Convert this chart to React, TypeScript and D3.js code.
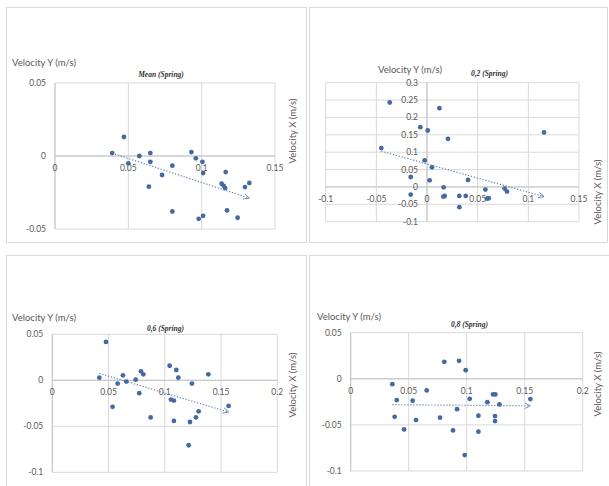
import React, { useEffect, useRef } from "react";
import * as d3 from "d3";

// velocity pairs [x, y] in m/s
const meanSpring: [number, number][] = [
  [0.039, 0.002], [0.047, 0.013], [0.05, -0.005], [0.0575, 0.0], [0.065, 0.002],
  [0.065, -0.004], [0.064, -0.021], [0.073, -0.013], [0.08, -0.0066], [0.08, -0.038],
  [0.093, 0.0027], [0.096, -0.0016], [0.1005, -0.004], [0.101, -0.0117], [0.098, -0.043],
  [0.101, -0.041], [0.1136, -0.019], [0.115, -0.0204], [0.116, -0.022], [0.1164, -0.011],
  [0.1173, -0.0373], [0.1245, -0.0423], [0.1295, -0.0213], [0.1325, -0.0185],
];
const spring02: [number, number][] = [
  [-0.0368, 0.243], [-0.0451, 0.112], [-0.0066, 0.172], [0.0007, 0.1625], [0.0122, 0.2266],
  [0.0207, 0.1386], [-0.0023, 0.0765], [0.0049, 0.0564], [-0.0161, 0.0287], [0.0026, 0.0191],
  [-0.0161, -0.022], [0.0164, -0.001], [0.0161, -0.0277], [0.0174, -0.026], [0.0319, -0.0258],
  [0.0319, -0.0583], [0.0382, -0.0258], [0.0405, 0.0201], [0.0576, -0.0076], [0.0592, -0.0335],
  [0.0609, -0.0325], [0.0766, -0.0048], [0.0789, -0.0134], [0.1155, 0.1568],
];
const spring06: [number, number][] = [
  [0.0418, 0.0029], [0.0477, 0.0417], [0.0536, -0.0288], [0.0581, -0.0036], [0.0628, 0.0054],
  [0.0658, -0.0014], [0.0741, 0.0007], [0.0773, -0.014], [0.0788, 0.0098], [0.0809, 0.0065],
  [0.0874, -0.0403], [0.1043, 0.0158], [0.1055, -0.021], [0.1081, -0.022], [0.1081, -0.0442],
  [0.1102, 0.0112], [0.112, 0.0029], [0.1212, -0.0706], [0.1224, -0.0453], [0.1241, -0.0036],
  [0.1277, -0.0403], [0.1301, -0.0337], [0.1387, 0.0065], [0.1567, -0.0279],
];
const spring08: [number, number][] = [
  [0.0359, -0.0058], [0.0397, -0.0231], [0.0379, -0.0412], [0.046, -0.0549], [0.0534, -0.0238],
  [0.0563, -0.0448], [0.0655, -0.0126], [0.077, -0.0422], [0.0807, 0.0184], [0.0882, -0.056],
  [0.0917, -0.0329], [0.0934, 0.0195], [0.0991, 0.0094], [0.0983, -0.0827], [0.1026, -0.0217],
  [0.1101, -0.0401], [0.1101, -0.0574], [0.1178, -0.0253], [0.1227, -0.017], [0.1247, -0.017],
  [0.1244, -0.0404], [0.1244, -0.0458], [0.1282, -0.0278], [0.1549, -0.022],
];

const titles = ["Mean (Spring)", "0,2 (Spring)", "0,6 (Spring)", "0,8 (Spring)"];

const xTicksMean = [0, 0.05, 0.1, 0.15];
const yTicksMean = [-0.05, 0, 0.05];
const xTicks02 = [-0.1, -0.05, 0, 0.05, 0.1, 0.15];
const yTicks02 = [-0.1, -0.05, 0, 0.05, 0.1, 0.15, 0.2, 0.25, 0.3];
const xTicksWide = [0, 0.05, 0.1, 0.15, 0.2];
const yTicksWide = [-0.1, -0.05, 0, 0.05];

const yAxisLabel = "Velocity Y (m/s)";
const xAxisLabel = "Velocity X (m/s)";

const W = 609;
const H = 486;
const DOT = "#456a9f";
const GRID = "#d9d9d9";
const TEXT = "#595959";
const FONT = "Lato, 'Open Sans', sans-serif";

// least squares line over a series
function fit(pts: [number, number][]) {
  const mx = d3.mean(pts, (d) => d[0])!;
  const my = d3.mean(pts, (d) => d[1])!;
  const sxy = d3.sum(pts, (d) => (d[0] - mx) * (d[1] - my));
  const sxx = d3.sum(pts, (d) => (d[0] - mx) ** 2);
  const slope = sxy / sxx;
  return (x: number) => my + slope * (x - mx);
}

const App = () => {
  const ref = useRef<SVGSVGElement>(null);

  useEffect(() => {
    const panels = [
      {
        data: meanSpring, xt: xTicksMean, yt: yTicksMean,
        box: [6, 7, 300, 235], plot: [55, 275, 83, 229],
        yl: [12, 66], tl: [161, 77], xl: [296, 131],
      },
      {
        data: spring02, xt: xTicks02, yt: yTicks02,
        box: [309, 7, 298, 235], plot: [325.7, 579, 82.7, 221.7],
        yl: [378, 73], tl: [489.5, 76], xl: [601, 192],
      },
      {
        data: spring06, xt: xTicksWide, yt: yTicksWide,
        box: [6, 255, 300, 260], plot: [52.3, 277.3, 334.3, 472.3],
        yl: [12, 321], tl: [165.5, 331], xl: [296, 385],
      },
      {
        data: spring08, xt: xTicksWide, yt: yTicksWide,
        box: [309, 255, 320, 260], plot: [350.7, 582.7, 332.7, 471],
        yl: [317, 320], tl: [469.5, 327], xl: [601, 384],
      },
    ];

    const svg = d3.select(ref.current);
    svg.selectAll("*").remove();

    svg.append("rect").attr("width", W).attr("height", H).attr("fill", "#fff");

    const defs = svg.append("defs");
    defs
      .append("marker")
      .attr("id", "arrow")
      .attr("viewBox", "0 0 10 10")
      .attr("refX", 9)
      .attr("refY", 5)
      .attr("markerWidth", 7)
      .attr("markerHeight", 7)
      .attr("markerUnits", "userSpaceOnUse")
      .attr("orient", "auto")
      .append("path")
      .attr("d", "M1,1 L9,5 L1,9")
      .attr("fill", "none")
      .attr("stroke", "#5f7fae")
      .attr("stroke-width", 1.2);

    panels.forEach((p, i) => {
      const g = svg.append("g");
      const [bx, by, bw, bh] = p.box;
      g.append("rect")
        .attr("x", bx + 0.5).attr("y", by + 0.5)
        .attr("width", bw).attr("height", bh)
        .attr("fill", "#fff").attr("stroke", GRID);

      const x = d3.scaleLinear().domain(d3.extent(p.xt) as [number, number]).range([p.plot[0], p.plot[1]]);
      const y = d3.scaleLinear().domain(d3.extent(p.yt) as [number, number]).range([p.plot[3], p.plot[2]]);

      // gridlines
      g.selectAll(".vg").data(p.xt).enter().append("line")
        .attr("x1", (d) => x(d)).attr("x2", (d) => x(d))
        .attr("y1", y.range()[1]).attr("y2", y.range()[0])
        .attr("stroke", GRID).attr("stroke-width", 1);
      g.selectAll(".hg").data(p.yt).enter().append("line")
        .attr("y1", (d) => y(d)).attr("y2", (d) => y(d))
        .attr("x1", x.range()[0]).attr("x2", x.range()[1])
        .attr("stroke", GRID).attr("stroke-width", 1);

      // axes through zero
      g.append("line")
        .attr("x1", x.range()[0]).attr("x2", x.range()[1])
        .attr("y1", y(0)).attr("y2", y(0))
        .attr("stroke", "#c4c4c4");
      g.append("line")
        .attr("x1", x(0)).attr("x2", x(0))
        .attr("y1", y.range()[0]).attr("y2", y.range()[1])
        .attr("stroke", "#c4c4c4");

      // tick labels
      g.selectAll(".xt").data(p.xt).enter().append("text")
        .attr("x", (d) => x(d)).attr("y", y(0) + 15)
        .attr("text-anchor", "middle")
        .attr("font-family", FONT).attr("font-size", 8.5).attr("fill", TEXT)
        .text((d) => String(d));
      g.selectAll(".yt").data(p.yt).enter().append("text")
        .attr("x", x(0) - 9).attr("y", (d) => y(d) + 3)
        .attr("text-anchor", "end")
        .attr("font-family", FONT).attr("font-size", 8.5).attr("fill", TEXT)
        .text((d) => String(d));

      // labels
      g.append("text")
        .attr("x", p.yl[0]).attr("y", p.yl[1])
        .attr("font-family", FONT).attr("font-size", 9.5).attr("fill", TEXT)
        .text(yAxisLabel);
      g.append("text")
        .attr("transform", `translate(${p.xl[0]},${p.xl[1]}) rotate(-90)`)
        .attr("text-anchor", "middle")
        .attr("font-family", FONT).attr("font-size", 9.5).attr("fill", TEXT)
        .text(xAxisLabel);
      g.append("text")
        .attr("x", p.tl[0]).attr("y", p.tl[1])
        .attr("text-anchor", "middle")
        .attr("font-family", "'Liberation Serif', serif")
        .attr("font-style", "italic").attr("font-weight", "bold")
        .attr("font-size", 7.5).attr("fill", "#333")
        .text(titles[i]);

      // trendline
      const f = fit(p.data);
      const [x0, x1] = d3.extent(p.data, (d) => d[0]) as [number, number];
      g.append("line")
        .attr("x1", x(x0)).attr("y1", y(f(x0)))
        .attr("x2", x(x1)).attr("y2", y(f(x1)))
        .attr("stroke", "#5f7fae").attr("stroke-width", 1.2)
        .attr("stroke-dasharray", "1.2 1.8")
        .attr("marker-end", "url(#arrow)");

      // points
      g.selectAll(".pt").data(p.data).enter().append("circle")
        .attr("cx", (d) => x(d[0])).attr("cy", (d) => y(d[1]))
        .attr("r", 2.4).attr("fill", DOT);
    });
  }, []);

  return (
    <div style={{ position: "absolute", left: 0, top: 0 }}>
      <svg ref={ref} width={W} height={H} style={{ display: "block" }} />
    </div>
  );
};

export default App;
